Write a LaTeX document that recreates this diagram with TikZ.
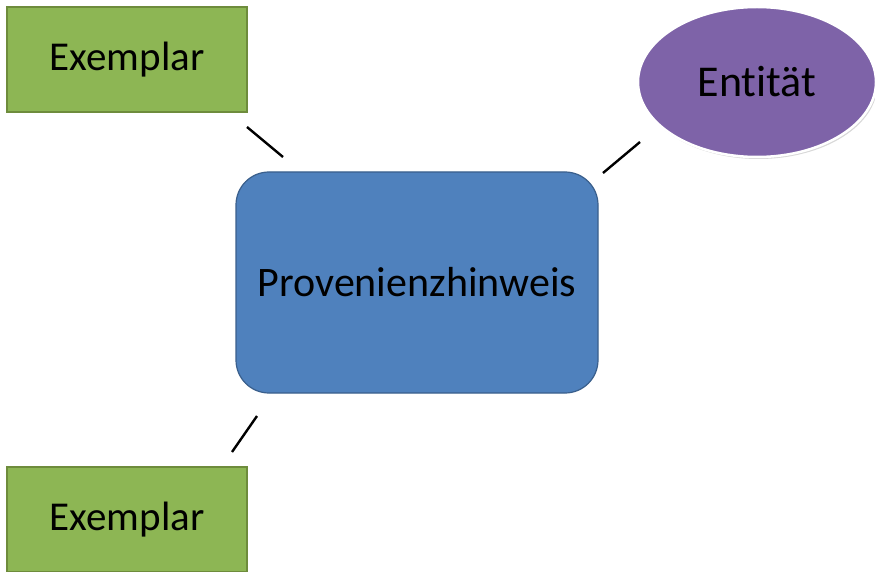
\documentclass[tikz,border=0pt]{standalone}
\usepackage{fontspec}
\setmainfont[Ligatures=NoCommon]{Carlito}
\usetikzlibrary{shapes.geometric,shadows}
\definecolor{exgreen}{HTML}{8DB654}
\definecolor{exgreenline}{HTML}{6E8C3C}
\definecolor{provblue}{HTML}{4F81BD}
\definecolor{provblueline}{HTML}{3A5F8C}
\definecolor{entpurple}{HTML}{7E63A8}
\begin{document}
\begin{tikzpicture}[x=1pt, y=-1pt,
        exemplar/.style={draw=exgreenline, fill=exgreen, line width=1.2pt, minimum width=240pt, minimum height=105pt, font=\fontsize{41}{48}\selectfont},
        hinweis/.style={draw=provblueline, fill=provblue, line width=1.2pt, rounded corners=33pt, minimum width=362pt, minimum height=221pt, font=\fontsize{42}{48}\selectfont},
        entitaet/.style={ellipse, draw=white, fill=entpurple, line width=2.5pt, minimum width=238pt, minimum height=150pt, inner sep=0pt, font=\fontsize{44}{50}\selectfont, drop shadow={fill=black!30, shadow xshift=1.5pt, shadow yshift=-2pt}},
        link/.style={black, line width=2.4pt}]
        \useasboundingbox[fill=white] (0, 0) rectangle (875, 572);

        \node[exemplar] (exoben) at (127, 59.5) {Exemplar};
        \node[exemplar] (exunten) at (127, 519.5) {Exemplar};
        \node[hinweis] (hinweis) at (417, 282.5) {Provenienzhinweis};
        \node[entitaet] (entitaet) at (757, 82) {Entität};

        % kurze Verbindungsstriche
        \coordinate (l1a) at (247, 127);
        \coordinate (l1b) at (283, 157);
        \coordinate (l2a) at (603, 173);
        \coordinate (l2b) at (640, 142);
        \coordinate (l3a) at (232, 452);
        \coordinate (l3b) at (257, 416);
        \draw[link] (l1a) -- (l1b);
        \draw[link] (l2a) -- (l2b);
        \draw[link] (l3a) -- (l3b);
    \end{tikzpicture}
\end{document}
